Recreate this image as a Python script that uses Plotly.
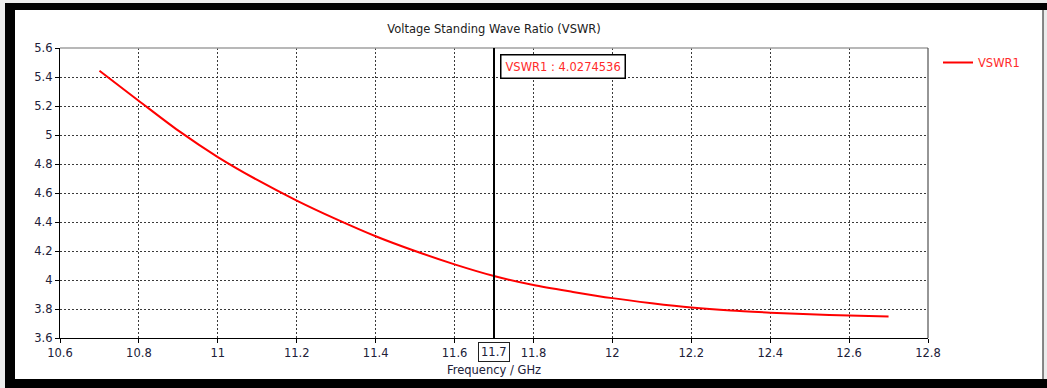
import plotly.graph_objects as go

# VSWR sweep (GHz, ratio)
freq_ghz = [10.7, 10.8, 10.9, 11.0, 11.1, 11.2, 11.3, 11.4, 11.5, 11.6, 11.7,
            11.8, 11.9, 12.0, 12.1, 12.2, 12.3, 12.4, 12.5, 12.6, 12.7]
vswr1 = [5.443, 5.235, 5.030, 4.848, 4.690, 4.548, 4.420, 4.302, 4.200, 4.108, 4.0274536,
         3.965, 3.918, 3.875, 3.840, 3.810, 3.789, 3.775, 3.763, 3.755, 3.748]

x_ticks = [10.6, 10.8, 11.0, 11.2, 11.4, 11.6, 11.8, 12.0, 12.2, 12.4, 12.6, 12.8]
x_labels = ["10.6", "10.8", "11", "11.2", "11.4", "11.6", "11.8", "12", "12.2", "12.4", "12.6", "12.8"]
y_ticks = [3.6, 3.8, 4.0, 4.2, 4.4, 4.6, 4.8, 5.0, 5.2, 5.4, 5.6]
y_labels = ["3.6", "3.8", "4", "4.2", "4.4", "4.6", "4.8", "5", "5.2", "5.4", "5.6"]

marker_freq = 11.7
marker_value = vswr1[freq_ghz.index(marker_freq)]

FONT = "DejaVu Sans"
FS = 11.5
TICK_COLOR = "#202038"
RED = "#ff0000"

W, H = 1047, 388
L, R, T, B = 60, 119, 48, 50
PW, PH = W - L - R, H - T - B


def px(x):
    return (x - L) / PW


def py(y):
    return (H - B - y) / PH


fig = go.Figure()
fig.add_trace(go.Scatter(
    x=freq_ghz, y=vswr1, mode="lines", name="VSWR1",
    line=dict(color=RED, width=2, shape="spline", smoothing=0.8),
))

shapes = [
    # frame
    dict(type="rect", xref="paper", yref="paper", x0=px(15), x1=px(1043), y0=py(379), y1=py(10),
         fillcolor="white", line=dict(width=0), layer="below"),
    dict(type="rect", xref="paper", yref="paper", x0=px(5), x1=px(1047), y0=py(10), y1=py(3),
         fillcolor="black", line=dict(width=0)),
    dict(type="rect", xref="paper", yref="paper", x0=px(5), x1=px(15), y0=py(388), y1=py(3),
         fillcolor="black", line=dict(width=0)),
    dict(type="rect", xref="paper", yref="paper", x0=px(5), x1=px(1047), y0=py(388), y1=py(379),
         fillcolor="black", line=dict(width=0)),
    dict(type="line", xref="paper", yref="paper", x0=px(1043), x1=px(1043), y0=py(379), y1=py(10),
         line=dict(color="#606060", width=1.5)),
    # top and right plot borders
    dict(type="line", xref="paper", yref="paper", x0=0, x1=1, y0=1, y1=1,
         line=dict(color="#a0a0a0", width=1.5)),
    dict(type="line", xref="paper", yref="paper", x0=1, x1=1, y0=0, y1=1,
         line=dict(color="#505050", width=1.2)),
    # marker line
    dict(type="line", xref="x", yref="paper", x0=marker_freq, x1=marker_freq, y0=0, y1=1,
         line=dict(color="black", width=2)),
]

annotations = [
    dict(text=f"VSWR1 : {marker_value}", xref="paper", yref="paper",
         x=px(563), y=py(66), showarrow=False, xanchor="center", yanchor="middle",
         font=dict(family=FONT, size=FS, color="#ff2a2a"),
         bordercolor="black", borderwidth=1.5, borderpad=4, bgcolor="white"),
    dict(text=f"{marker_freq}", xref="x", yref="paper", x=marker_freq, y=py(352),
         showarrow=False, xanchor="center", yanchor="middle",
         font=dict(family=FONT, size=FS, color=TICK_COLOR),
         bordercolor="#202020", borderwidth=1, borderpad=2, bgcolor="white"),
]

fig.update_layout(
    width=W, height=H,
    margin=dict(l=L, r=R, t=T, b=B),
    paper_bgcolor="#ececec",
    plot_bgcolor="white",
    title=dict(text="Voltage Standing Wave Ratio (VSWR)", xref="container", x=494 / W,
               xanchor="center", yref="container", y=1 - 29 / H, yanchor="middle",
               font=dict(family=FONT, size=FS, color="#202020")),
    font=dict(family=FONT, size=FS, color=TICK_COLOR),
    showlegend=True,
    legend=dict(x=px(938), y=py(48), xanchor="left", yanchor="top",
                bgcolor="rgba(0,0,0,0)", font=dict(family=FONT, size=FS, color="#ff2a2a")),
    shapes=shapes,
    annotations=annotations,
)

fig.update_xaxes(
    range=[10.6, 12.8], tickvals=x_ticks, ticktext=x_labels,
    showline=True, linecolor="black", linewidth=1.2,
    ticks="outside", ticklen=4, tickcolor="black",
    showgrid=True, gridcolor="#3a3a3a", gridwidth=1, griddash="2px,2px",
    zeroline=False,
    title=dict(text="Frequency / GHz", font=dict(family=FONT, size=FS, color=TICK_COLOR), standoff=7),
    tickfont=dict(family=FONT, size=FS, color=TICK_COLOR),
)
fig.update_yaxes(
    range=[3.6, 5.6], tickvals=y_ticks, ticktext=y_labels,
    showline=True, linecolor="black", linewidth=1.2,
    ticks="outside", ticklen=4, tickcolor="black",
    showgrid=True, gridcolor="#3a3a3a", gridwidth=1, griddash="2px,2px",
    zeroline=False,
    tickfont=dict(family=FONT, size=FS, color=TICK_COLOR),
)

fig.write_html("out.html")
